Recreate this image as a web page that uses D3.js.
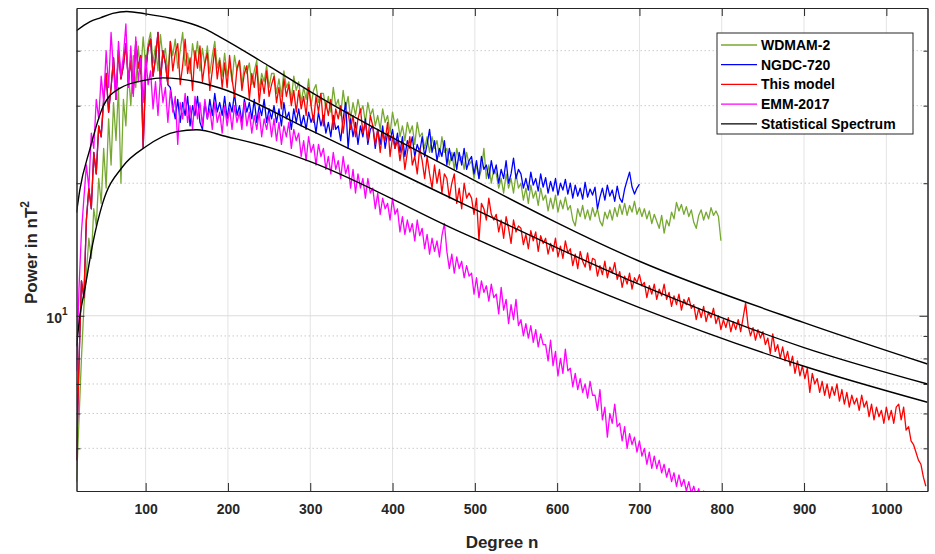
<!DOCTYPE html>
<html>
<head>
<meta charset="utf-8">
<script src="https://cdn.jsdelivr.net/npm/d3@7"></script>
<style>
  html, body { margin: 0; padding: 0; background: #fff; }
  svg { display: block; font-family: "Liberation Sans", Arial, Helvetica, sans-serif; }
</style>
</head>
<body>
<svg id="chart" width="935" height="554"></svg>
<script>
// ---------------- data ----------------
const degreeStart = 16;
const degreeStep = 3;
const xTicks = [100, 200, 300, 400, 500, 600, 700, 800, 900, 1000];
const yMajorTicks = [10];
const yMinorTicks = [5, 6, 7, 8, 9, 20, 30, 40];
const seriesNames = ["WDMAM-2", "NGDC-720", "This model", "EMM-2017", "Statistical Spectrum"];

// WDMAM-2, degrees 16..799 step 3
const wdmam2 = [
  4.2, 5.8, 8.0, 10.5, 12.5, 15.0, 13.5, 17.5, 16.0, 20.5,
  18.0, 24.0, 19.5, 28.0, 22.0, 30.5, 25.0, 33.0, 20.0, 31.0,
  27.0, 36.0, 30.0, 39.0, 33.0, 41.0, 35.5, 43.0, 37.0, 41.5,
  44.0, 37.5, 41.0, 36.0, 43.5, 38.5, 40.5, 35.5, 42.0, 39.0,
  42.5, 36.5, 40.0, 44.0, 37.0, 39.5, 35.5, 41.5, 38.0, 42.0,
  36.0, 40.5, 37.0, 41.0, 35.5, 39.0, 42.0, 36.5, 38.5, 35.0,
  39.5, 35.0, 37.5, 34.0, 39.0, 36.0, 38.0, 33.5, 37.0, 35.5,
  37.5, 33.5, 36.0, 38.0, 32.5, 35.5, 34.0, 37.0, 33.0, 35.5,
  35.5, 32.0, 34.5, 31.5, 36.0, 33.0, 34.0, 31.0, 35.0, 32.5,
  34.0, 30.5, 33.0, 31.0, 34.5, 30.0, 32.5, 33.5, 30.5, 32.0,
  32.0, 29.5, 31.5, 29.0, 33.0, 30.0, 31.0, 28.5, 32.5, 29.5,
  31.5, 28.0, 30.5, 28.5, 31.0, 29.0, 30.0, 27.5, 30.5, 28.5,
  29.5, 27.0, 28.5, 26.5, 29.5, 27.5, 28.5, 26.0, 29.0, 27.0,
  28.0, 25.5, 27.0, 25.0, 27.5, 26.0, 27.0, 24.5, 27.5, 25.5,
  26.0, 24.0, 25.5, 23.5, 25.5, 24.0, 25.0, 23.0, 25.5, 23.5,
  24.0, 22.0, 23.5, 21.5, 24.0, 22.5, 23.0, 21.5, 23.5, 22.0,
  22.5, 20.5, 22.0, 20.5, 21.5, 24.0, 20.5, 22.0, 20.0, 21.5,
  21.0, 19.5, 20.5, 19.0, 21.0, 19.5, 20.5, 19.0, 21.0, 19.5,
  20.0, 18.3, 19.5, 18.0, 19.8, 18.5, 19.2, 17.8, 19.5, 18.3,
  18.8, 17.3, 18.5, 17.5, 18.8, 17.2, 18.3, 17.5, 18.6, 17.4,
  17.8, 16.5, 16.0, 17.5, 16.8, 17.8, 16.6, 17.4, 16.5, 17.6,
  16.8, 17.5, 16.4, 16.0, 17.2, 16.6, 17.4, 16.5, 17.6, 16.8,
  17.9, 17.0, 18.0, 16.9, 17.8, 17.2, 18.2, 17.0, 17.6, 16.8,
  17.5, 16.6, 17.3, 16.2, 17.0, 16.4, 15.8, 16.9, 15.4, 16.5,
  16.0, 17.2, 16.6, 18.1, 17.3, 17.9, 17.0, 17.7, 16.8, 17.4,
  16.3, 15.8, 16.9, 17.4, 16.5, 17.2, 16.6, 17.6, 16.9, 17.3,
  16.8, 14.8
];

// NGDC-720, degrees 16..700 step 3
const ngdc720 = [
  4.7, 7.8, 12.0, 11.0, 16.5, 19.5, 17.5, 23.5, 21.0, 27.0,
  25.5, 31.0, 35.5, 29.0, 33.0, 38.5, 31.0, 40.0, 34.5, 37.0,
  41.5, 34.0, 38.0, 32.0, 42.0, 36.5, 39.0, 24.0, 35.5, 40.5,
  42.5, 35.0, 38.5, 44.0, 34.0, 40.0, 37.5, 33.5, 33.0, 30.0,
  28.0, 31.0, 27.5, 30.5, 28.5, 31.5, 27.0, 30.0, 28.5, 31.5,
  27.5, 26.5, 30.5, 28.0, 31.0, 28.5, 32.0, 29.0, 30.5, 28.5,
  31.5, 28.0, 30.5, 29.0, 32.0, 28.5, 30.0, 27.5, 31.0, 29.0,
  30.5, 28.0, 31.0, 27.5, 30.0, 28.5, 31.0, 27.5, 29.5, 28.0,
  30.0, 27.5, 29.5, 27.0, 30.5, 28.0, 29.0, 26.5, 29.5, 27.5,
  29.5, 27.0, 28.5, 26.5, 29.0, 27.5, 28.5, 26.0, 29.0, 27.0,
  28.5, 26.0, 27.5, 25.5, 28.5, 26.5, 27.0, 25.0, 28.0, 30.5,
  24.0, 28.0, 25.5, 27.5, 24.5, 27.0, 25.5, 28.0, 24.5, 26.5,
  27.0, 24.0, 26.5, 24.5, 27.0, 24.0, 26.0, 25.0, 26.5, 24.0,
  26.0, 23.5, 25.5, 23.0, 25.0, 24.0, 25.5, 23.0, 24.5, 23.5,
  25.5, 23.0, 24.5, 26.5, 23.5, 25.0, 22.5, 24.0, 23.0, 25.0,
  22.0, 24.0, 22.5, 23.5, 21.5, 23.5, 22.0, 24.0, 21.5, 22.5,
  23.0, 21.0, 22.5, 20.5, 23.0, 21.5, 22.0, 20.5, 22.5, 21.0,
  22.0, 20.0, 21.5, 20.5, 22.5, 20.0, 21.0, 22.8, 20.5, 21.5,
  21.0, 19.5, 20.5, 19.3, 21.2, 19.8, 20.5, 19.2, 21.0, 19.6,
  20.6, 19.0, 20.2, 19.2, 20.5, 18.8, 20.0, 19.3, 20.4, 18.9,
  20.0, 18.5, 19.8, 18.7, 19.5, 18.4, 20.1, 18.6, 19.4, 18.8,
  19.6, 17.5, 18.6, 19.5, 18.3, 19.8, 18.7, 19.3, 18.2, 19.7,
  18.5, 18.1, 19.4, 20.3, 21.2, 19.6, 18.9, 19.5, 19.9
];

// This model, degrees 16..1048 step 3
const thisModel = [
  4.7, 7.8, 12.0, 11.0, 16.5, 19.5, 17.5, 23.5, 21.0, 27.0,
  25.5, 31.0, 35.5, 29.0, 33.0, 38.5, 31.0, 40.0, 34.5, 37.0,
  41.5, 34.0, 38.0, 32.0, 42.0, 36.5, 39.0, 24.0, 35.5, 40.5,
  42.5, 35.0, 38.5, 44.0, 34.0, 40.0, 37.5, 33.5, 42.0, 36.0,
  39.5, 41.5, 33.5, 37.0, 42.5, 35.5, 38.5, 32.5, 40.0, 36.5,
  41.0, 34.0, 37.5, 39.5, 32.5, 36.0, 40.5, 34.5, 38.0, 33.0,
  37.5, 33.0, 39.0, 34.5, 31.5, 36.5, 38.0, 32.5, 35.5, 37.0,
  31.0, 35.5, 33.0, 37.0, 30.5, 34.5, 32.0, 36.0, 31.5, 33.5,
  35.0, 30.5, 33.0, 29.5, 34.5, 31.5, 33.5, 30.0, 32.5, 29.0,
  32.5, 29.5, 31.5, 28.5, 33.0, 30.0, 27.5, 31.5, 29.0, 32.0,
  27.0, 30.5, 28.5, 31.0, 26.5, 29.5, 28.0, 30.0, 26.0, 29.0,
  29.0, 26.5, 28.5, 25.5, 28.0, 29.5, 26.0, 27.5, 25.0, 28.5,
  27.0, 24.5, 26.5, 23.5, 26.0, 25.0, 27.5, 23.0, 25.5, 24.0,
  25.0, 22.5, 24.5, 21.5, 23.5, 25.5, 22.0, 23.0, 21.0, 24.0,
  22.5, 20.5, 23.0, 21.0, 19.5, 22.0, 20.0, 21.5, 19.0, 21.0,
  20.5, 18.5, 20.0, 21.0, 18.0, 19.5, 17.5, 20.0, 18.5, 19.0,
  18.5, 17.0, 18.5, 14.8, 18.0, 17.5, 16.5, 18.5, 17.0, 16.5,
  17.0, 15.5, 16.5, 15.0, 16.8, 15.8, 14.6, 16.5, 15.5, 16.0,
  15.8, 14.5, 15.3, 14.2, 15.6, 14.8, 15.5, 14.0, 15.2, 14.6,
  15.0, 13.8, 14.6, 14.0, 15.0, 13.6, 14.4, 13.5, 14.8, 13.9,
  14.2, 13.0, 13.8, 12.8, 14.0, 13.3, 12.9, 13.9, 12.7, 13.5,
  13.4, 12.3, 13.0, 12.4, 13.3, 12.2, 12.9, 12.5, 13.2, 12.1,
  12.6, 11.6, 12.3, 11.8, 12.5, 11.5, 12.2, 11.9, 12.4, 11.7,
  11.9, 11.0, 11.7, 11.2, 11.8, 10.9, 11.5, 11.1, 11.8, 10.9,
  11.3, 10.5, 11.1, 10.6, 11.2, 10.3, 10.9, 10.6, 11.0, 10.4,
  10.6, 9.8, 10.4, 9.9, 10.5, 9.7, 10.2, 9.9, 10.4, 9.6,
  10.0, 9.3, 9.8, 9.4, 9.9, 9.2, 9.7, 9.3, 9.8, 9.2,
  9.9, 10.7, 9.5, 9.0, 9.4, 8.8, 9.3, 8.9, 9.2, 8.6,
  8.9, 8.2, 9.1, 8.3, 8.6, 8.0, 8.5, 7.9, 8.3, 7.7,
  8.1, 7.4, 7.9, 7.3, 7.7, 7.2, 7.6, 6.7, 7.4, 7.0,
  7.2, 6.7, 7.1, 6.6, 7.0, 6.5, 6.9, 6.6, 7.0, 6.4,
  6.8, 6.3, 6.7, 6.2, 6.6, 6.3, 6.5, 6.1, 6.6, 6.2,
  6.4, 5.9, 6.3, 5.8, 6.2, 5.9, 6.1, 5.7, 6.2, 5.8,
  6.1, 5.7, 6.2, 6.3, 5.8, 6.2, 5.5, 5.6, 5.2, 5.1,
  4.9, 4.7, 4.6, 4.3, 4.1
];

// EMM-2017, degrees 16..793 step 3
const emm2017 = [
  7.5, 11.5, 15.5, 18.5, 22.0, 19.5, 26.0, 24.0, 31.0, 28.0,
  35.0, 30.5, 40.0, 33.0, 44.0, 36.0, 31.0, 42.0, 35.0, 39.0,
  46.0, 33.0, 41.0, 31.5, 43.0, 34.0, 38.5, 30.5, 39.0, 33.5,
  36.0, 29.5, 34.0, 28.5, 35.0, 30.5, 33.0, 27.5, 32.5, 29.0,
  31.5, 24.5, 30.5, 28.0, 32.0, 27.5, 30.0, 26.5, 31.5, 28.0,
  30.5, 27.0, 31.0, 28.0, 29.5, 26.5, 30.5, 27.5, 29.0, 26.0,
  30.0, 27.0, 29.5, 26.5, 30.0, 27.5, 29.0, 26.5, 30.5, 27.0,
  29.0, 26.0, 28.5, 26.5, 29.0, 25.5, 28.0, 26.5, 28.5, 25.5,
  28.0, 25.0, 27.5, 24.5, 27.0, 25.5, 27.5, 24.0, 26.5, 25.0,
  26.0, 23.0, 25.0, 22.5, 25.5, 23.5, 24.5, 22.0, 24.5, 23.0,
  24.0, 21.5, 23.0, 21.0, 23.5, 21.5, 22.5, 20.5, 23.0, 21.0,
  22.0, 19.5, 21.5, 19.0, 21.0, 19.5, 20.5, 18.5, 20.5, 19.0,
  19.5, 17.5, 19.0, 17.0, 18.5, 17.5, 18.0, 16.5, 18.5, 17.0,
  17.5, 15.5, 16.8, 15.3, 16.5, 15.5, 16.2, 14.8, 16.5, 15.2,
  15.8, 14.2, 15.3, 13.8, 15.0, 14.0, 14.8, 13.6, 15.2, 16.2,
  14.0, 12.8, 13.8, 12.5, 13.6, 12.8, 13.3, 12.2, 13.0, 12.3,
  12.5, 11.2, 12.2, 11.0, 12.0, 11.3, 11.7, 10.8, 11.8, 11.0,
  11.2, 10.1, 11.6, 10.3, 10.9, 9.6, 10.6, 9.8, 10.9, 9.5,
  9.8, 9.0, 9.6, 8.9, 9.5, 8.7, 9.3, 8.5, 9.1, 8.6,
  8.6, 7.9, 8.8, 7.7, 8.3, 7.3, 8.0, 7.4, 8.4, 7.5,
  7.6, 6.9, 7.4, 6.8, 7.2, 6.7, 7.0, 6.5, 7.1, 6.6,
  6.6, 6.1, 6.8, 5.8, 6.2, 5.3, 6.0, 5.7, 6.3, 5.6,
  5.7, 5.2, 5.6, 5.0, 5.4, 5.1, 5.3, 4.9, 5.2, 4.8,
  5.0, 4.6, 4.9, 4.5, 4.8, 4.5, 4.7, 4.4, 4.6, 4.3,
  4.5, 4.2, 4.4, 4.1, 4.35, 4.1, 4.25, 4.0, 4.2, 3.95,
  4.1, 3.9, 4.05, 3.85, 4.0, 3.8, 3.95, 3.75, 3.85, 3.7
];

// Statistical spectrum curves (upper, central, lower)
const statUpperDeg = [16, 32, 45, 60, 77, 100, 130, 170, 190, 251, 300, 482, 700, 899, 1050];
const statUpperPow = [44.4, 46.5, 47.5, 48.6, 49.1, 48.5, 47.4, 45.0, 43.0, 36.8, 32.3, 21.1, 13.3, 9.66, 7.77];
const statMidDeg = [16, 20, 32, 48, 69, 100, 121, 162, 190, 300, 482, 700, 899, 1050];
const statMidPow = [17.15, 19.3, 23.8, 29.8, 32.9, 34.3, 34.7, 34.0, 32.9, 26.4, 18.1, 11.78, 8.48, 7.0];
const statLowDeg = [16, 20, 26, 36, 48, 72, 100, 138, 162, 199, 251, 300, 482, 700, 899, 1050];
const statLowPow = [8.52, 9.96, 11.47, 14.66, 18.07, 21.8, 24.2, 26.2, 26.45, 25.5, 24.1, 22.4, 15.5, 10.44, 7.69, 6.36];

// ---------------- layout & styles ----------------
const colors = {
  "WDMAM-2": "#77a832",
  "NGDC-720": "#0000ff",
  "This model": "#ff0000",
  "EMM-2017": "#ff00ff",
  "Statistical Spectrum": "#000000"
};
const axisColor = "#262626";
const plot = { left: 76.5, right: 927.5, top: 8, bottom: 491 };

const svg = d3.select("#chart");
const x = d3.scaleLinear().domain([16, 1050]).range([plot.left, plot.right]);
const y = d3.scaleLog().domain([4, 50]).range([plot.bottom, plot.top]);

svg.append("defs").append("clipPath").attr("id", "clip")
  .append("rect").attr("x", plot.left).attr("y", plot.top)
  .attr("width", plot.right - plot.left).attr("height", plot.bottom - plot.top);

// grid
const grid = svg.append("g");
grid.selectAll(".gx").data(xTicks).enter().append("line")
  .attr("x1", d => x(d)).attr("x2", d => x(d))
  .attr("y1", plot.top).attr("y2", plot.bottom)
  .attr("stroke", "#e3e3e3").attr("stroke-width", 1);
grid.selectAll(".gy").data(yMajorTicks).enter().append("line")
  .attr("x1", plot.left).attr("x2", plot.right)
  .attr("y1", d => y(d)).attr("y2", d => y(d))
  .attr("stroke", "#dcdcdc").attr("stroke-width", 1);
grid.selectAll(".gym").data(yMinorTicks).enter().append("line")
  .attr("x1", plot.left).attr("x2", plot.right)
  .attr("y1", d => y(d)).attr("y2", d => y(d))
  .attr("stroke", "#bdbdbd").attr("stroke-width", 0.8)
  .attr("stroke-dasharray", "1.5,2.5");

// series
const seriesG = svg.append("g").attr("clip-path", "url(#clip)");
const noisyLine = d3.line()
  .x((d, i) => x(degreeStart + i * degreeStep))
  .y(d => y(d));
const noisy = [
  ["WDMAM-2", wdmam2],
  ["NGDC-720", ngdc720],
  ["This model", thisModel],
  ["EMM-2017", emm2017]
];
noisy.forEach(([name, vals]) => {
  seriesG.append("path")
    .datum(vals)
    .attr("d", noisyLine)
    .attr("fill", "none")
    .attr("stroke", colors[name])
    .attr("stroke-width", 1.3)
    .attr("stroke-linejoin", "round");
});

const smoothLine = d3.line()
  .x(d => x(d[0])).y(d => y(d[1]))
  .curve(d3.curveMonotoneX);
[[statUpperDeg, statUpperPow], [statMidDeg, statMidPow], [statLowDeg, statLowPow]].forEach(([deg, pow]) => {
  seriesG.append("path")
    .datum(deg.map((d, i) => [d, pow[i]]))
    .attr("d", smoothLine)
    .attr("fill", "none")
    .attr("stroke", colors["Statistical Spectrum"])
    .attr("stroke-width", 1.4);
});

// axes
function styleAxis(g) {
  g.selectAll("path, line").attr("stroke", axisColor);
  g.selectAll("text").attr("fill", axisColor)
    .style("font-size", "14px").style("font-weight", "bold");
}
svg.append("g").attr("transform", `translate(0,${plot.bottom})`)
  .call(d3.axisBottom(x).tickValues(xTicks).tickSize(-8).tickSizeOuter(0).tickPadding(13).tickFormat(d3.format("d")))
  .call(styleAxis);
svg.append("g").attr("transform", `translate(0,${plot.top})`)
  .call(d3.axisTop(x).tickValues(xTicks).tickSize(-8).tickSizeOuter(0).tickFormat(""))
  .call(styleAxis);
svg.append("g").attr("transform", `translate(${plot.left},0)`)
  .call(d3.axisLeft(y).tickValues(yMajorTicks).tickSize(-8).tickSizeOuter(0).tickFormat(""))
  .call(styleAxis);
svg.append("g").attr("transform", `translate(${plot.left},0)`)
  .call(d3.axisLeft(y).tickValues(yMinorTicks).tickSize(-4).tickSizeOuter(0).tickFormat(""))
  .call(styleAxis);
svg.append("g").attr("transform", `translate(${plot.right},0)`)
  .call(d3.axisRight(y).tickValues(yMajorTicks).tickSize(-8).tickSizeOuter(0).tickFormat(""))
  .call(styleAxis);
svg.append("g").attr("transform", `translate(${plot.right},0)`)
  .call(d3.axisRight(y).tickValues(yMinorTicks).tickSize(-4).tickSizeOuter(0).tickFormat(""))
  .call(styleAxis);

// y tick label 10^1
yMajorTicks.forEach(v => {
  const t = svg.append("text")
    .attr("x", plot.left - 9).attr("y", y(v) + 7)
    .attr("text-anchor", "end")
    .attr("fill", axisColor)
    .style("font-size", "14px").style("font-weight", "bold");
  t.append("tspan").text("10");
  t.append("tspan").attr("dy", -8).style("font-size", "10px").text(Math.round(Math.log10(v)));
});

// axis titles
svg.append("text")
  .attr("x", (plot.left + plot.right) / 2).attr("y", 548)
  .attr("text-anchor", "middle").attr("fill", axisColor)
  .style("font-size", "17px").style("font-weight", "bold")
  .text("Degree n");
const yl = svg.append("text")
  .attr("transform", `translate(37,${(plot.top + plot.bottom) / 2 + 3}) rotate(-90)`)
  .attr("text-anchor", "middle").attr("fill", axisColor)
  .style("font-size", "17px").style("font-weight", "bold");
yl.append("tspan").text("Power in nT");
yl.append("tspan").attr("dy", -8).style("font-size", "12px").text("2");

// legend
const lg = svg.append("g").attr("transform", "translate(717,33)");
lg.append("rect").attr("width", 196).attr("height", 101)
  .attr("fill", "#fff").attr("stroke", axisColor).attr("stroke-width", 1);
seriesNames.forEach((name, i) => {
  const cy = 12 + i * 19.7;
  lg.append("line").attr("x1", 4).attr("x2", 40).attr("y1", cy).attr("y2", cy)
    .attr("stroke", colors[name]).attr("stroke-width", 1.3);
  lg.append("text").attr("x", 44).attr("y", cy + 5)
    .attr("fill", "#000")
    .style("font-size", "14px").style("font-weight", "bold")
    .text(name);
});
</script>
</body>
</html>
